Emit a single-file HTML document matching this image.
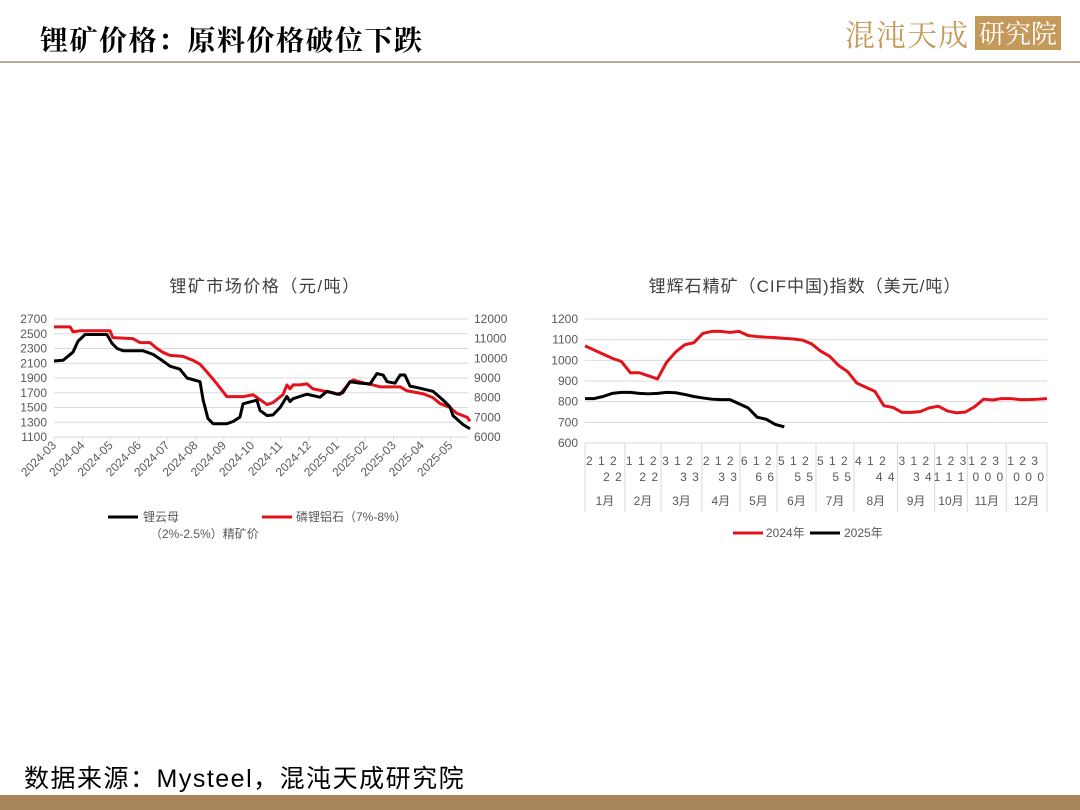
<!DOCTYPE html>
<html><head><meta charset="utf-8">
<style>
body{margin:0;width:1080px;height:810px;background:#fff;position:relative;overflow:hidden;font-family:"Liberation Sans","Noto Sans CJK SC",sans-serif;}
.abs{position:absolute;}
</style></head>
<body>
<div class="abs" style="left:40px;top:19px;font-size:28px;letter-spacing:1.5px;font-weight:bold;font-family:'Noto Serif CJK SC','Noto Sans CJK SC',serif;color:#000;">锂矿价格：原料价格破位下跌</div>
<div class="abs" style="left:845px;top:14px;height:38px;display:flex;align-items:center;">
  <span style="font-size:30px;color:#c49a5a;font-family:'Noto Serif CJK SC',serif;letter-spacing:1px;">混沌天成</span>
  <span style="margin-left:6px;background:#c49a5a;color:#fff;font-size:26px;padding:0 4px;font-family:'Noto Serif CJK SC',serif;line-height:34px;">研究院</span>
</div>
<div class="abs" style="left:0;top:61px;width:1080px;height:2px;background:#b9ab95;"></div>

<svg class="abs" style="left:0;top:0" width="1080" height="810">
<g id="left"></g>
<g id="right"></g>
</svg>

<div class="abs" style="left:24px;top:759px;font-size:25px;letter-spacing:1.5px;color:#000;">数据来源：Mysteel，混沌天成研究院</div>
<div class="abs" style="left:0;top:795px;width:1080px;height:15px;background:#a9855a;"></div>

<script>
// ---- Left chart data ----
const leftMonthLabels=["2024-03","2024-04","2024-05","2024-06","2024-07","2024-08","2024-09","2024-10","2024-11","2024-12","2025-01","2025-02","2025-03","2025-04","2025-05"];
const leftYTicks=[1100,1300,1500,1700,1900,2100,2300,2500,2700];
const rightYTicksL=[6000,7000,8000,9000,10000,11000,12000];
const lepidoliteT=[0,.32,.67,.85,1.1,1.87,2.05,2.23,2.44,3.14,3.5,3.85,4.1,4.45,4.7,5.16,5.27,5.44,5.62,6.11,6.33,6.57,6.68,7.17,7.28,7.53,7.74,7.99,8.23,8.34,8.45,8.69,8.94,9.4,9.65,10,10.2,10.46,10.8,11.17,11.41,11.63,11.77,12.05,12.23,12.4,12.58,12.83,13.39,13.75,13.99,14.1,14.45,14.7];
const lepidoliteV=[2130,2140,2250,2400,2490,2490,2370,2300,2270,2270,2220,2130,2060,2020,1900,1850,1600,1350,1280,1280,1310,1370,1550,1600,1460,1390,1400,1500,1650,1580,1620,1650,1680,1640,1720,1680,1700,1850,1830,1820,1960,1940,1850,1830,1940,1940,1790,1770,1720,1600,1510,1390,1270,1210];
const amblygoniteT=[0,.57,.67,.92,1.98,2.08,2.79,3.04,3.39,3.64,3.85,4.1,4.56,4.91,5.16,5.41,5.76,6.11,6.68,7.03,7.28,7.53,7.74,8.09,8.23,8.34,8.45,8.69,8.94,9.15,9.65,9.86,10.1,10.46,10.57,11.06,11.27,11.52,12.23,12.47,13.04,13.39,13.64,13.99,14.24,14.6,14.7];
const amblygoniteV=[11600,11600,11350,11400,11400,11050,11000,10800,10800,10500,10300,10150,10100,9900,9700,9300,8700,8050,8050,8150,7900,7650,7750,8150,8650,8450,8650,8650,8700,8450,8300,8250,8150,8800,8900,8700,8650,8550,8550,8350,8200,8000,7700,7500,7200,7000,6800];

// ---- Right chart data ----
const rYTicks=[600,700,800,900,1000,1100,1200];
const monthNames=["1月","2月","3月","4月","5月","6月","7月","8月","9月","10月","11月","12月"];
const monthStartWeek=[0,4.4,8.4,12.9,17.1,21.2,25.5,29.7,34.5,38.6,42.2,46.5,51];
const dayRow1=["2 1 2","1 1 2","3 1 2","2 1 2","6 1 2","5 1 2","5 1 2","4 1 2","3 1 2","1 2 3","1 2 3","1 2 3"];
const dayRow2=["2 2","2 2","3 3","3 3","6 6","5 5","5 5","4 4","3 4","1 1 1","0 0 0","0 0 0"];
const s2024=[1070,1050,1030,1010,995,940,940,925,910,990,1040,1075,1085,1130,1140,1140,1135,1140,1120,1115,1112,1110,1106,1103,1098,1080,1045,1020,975,945,890,870,850,780,772,748,748,752,770,778,755,746,750,775,812,808,815,815,810,810,812,815];
const s2025=[815,815,825,840,845,845,840,838,840,845,843,835,825,818,812,810,810,790,770,725,715,690,678];

const NS="http://www.w3.org/2000/svg";
function mk(parent,tag,attrs,text){const e=document.createElementNS(NS,tag);for(const k in attrs)e.setAttribute(k,attrs[k]);if(text!==undefined)e.textContent=text;parent.appendChild(e);return e;}
const axisColor="#595959";
// Left chart
const L=document.getElementById('left');
const lx=m=>54+m*28.3;
const ly=v=>437-(v-1100)/1600*118;
const ry=v=>437-(v-6000)/6000*118;
let t=mk(L,'text',{x:265,y:292,'text-anchor':'middle','font-size':17,fill:'#404040','letter-spacing':'1.5'},'锂矿市场价格（元/吨）');

leftYTicks.forEach(v=>{const g=mk(L,'line',{x1:54,x2:468,y1:ly(v),y2:ly(v),stroke:'#d9d9d9','stroke-width':1});

const tx=mk(L,'text',{x:47,y:ly(v)+4,'text-anchor':'end','font-size':12,fill:axisColor},v);
});
rightYTicksL.forEach(v=>{const tx=mk(L,'text',{x:474,y:ry(v)+4,'font-size':12,fill:axisColor},v);
});
leftMonthLabels.forEach((s,i)=>{const x=lx(i);
const tk=mk(L,'line',{x1:x,x2:x,y1:437,y2:441,stroke:'#d9d9d9'});
const tx=mk(L,'text',{x:x+3,y:446,'text-anchor':'end','font-size':12,fill:axisColor,transform:`rotate(-45 ${x+3} 446)`},s);
});
let p=mk(L,'polyline',{points:amblygoniteT.map((m,i)=>lx(m)+','+ry(amblygoniteV[i])).join(' '),fill:'none',stroke:'#e3121b','stroke-width':3,'stroke-linejoin':'round'});

p=mk(L,'polyline',{points:lepidoliteT.map((m,i)=>lx(m)+','+ly(lepidoliteV[i])).join(' '),fill:'none',stroke:'#000','stroke-width':3,'stroke-linejoin':'round'});

let lg=mk(L,'line',{x1:108,x2:138,y1:517,y2:517,stroke:'#000','stroke-width':3});
t=mk(L,'text',{x:143,y:521,'font-size':12,fill:axisColor},'锂云母');
t=mk(L,'text',{x:150,y:538,'font-size':12,fill:axisColor},'（2%-2.5%）精矿价');
lg=mk(L,'line',{x1:262,x2:292,y1:517,y2:517,stroke:'#e3121b','stroke-width':3});
t=mk(L,'text',{x:296,y:521,'font-size':12,fill:axisColor},'磷锂铝石（7%-8%）');

// Right chart
const R=document.getElementById('right');
const wx=w=>585+w*(462/51);
const vy=v=>443-(v-600)/600*124;
t=mk(R,'text',{x:805,y:292,'text-anchor':'middle','font-size':17,fill:'#404040','letter-spacing':'1'},'锂辉石精矿（CIF中国)指数（美元/吨）');

rYTicks.forEach(v=>{const g=mk(R,'line',{x1:585,x2:1047,y1:vy(v),y2:vy(v),stroke:'#d9d9d9'});

const tx=mk(R,'text',{x:578,y:vy(v)+4,'text-anchor':'end','font-size':12,fill:axisColor},v);
});
monthStartWeek.forEach(w=>{const l=mk(R,'line',{x1:wx(w),x2:wx(w),y1:443,y2:512,stroke:'#d9d9d9'});
});
monthNames.forEach((m,i)=>{const a=wx(monthStartWeek[i]),b=wx(monthStartWeek[i+1]);
let tx=mk(R,'text',{x:(a+b)/2,y:505,'text-anchor':'middle','font-size':12,fill:axisColor},m);

tx=mk(R,'text',{x:a+1,y:465,'font-size':12,fill:axisColor,'xml:space':'preserve','letter-spacing':'1'},dayRow1[i]);

tx=mk(R,'text',{x:b-2,y:481,'text-anchor':'end','font-size':12,fill:axisColor,'letter-spacing':'1'},dayRow2[i]);
});
p=mk(R,'polyline',{points:s2024.map((v,i)=>wx(i)+','+vy(v)).join(' '),fill:'none',stroke:'#e3121b','stroke-width':3,'stroke-linejoin':'round'});

p=mk(R,'polyline',{points:s2025.map((v,i)=>wx(i)+','+vy(v)).join(' '),fill:'none',stroke:'#000','stroke-width':3,'stroke-linejoin':'round'});

lg=mk(R,'line',{x1:733,x2:763,y1:533,y2:533,stroke:'#e3121b','stroke-width':3});
t=mk(R,'text',{x:766,y:537,'font-size':12,fill:axisColor},'2024年');
lg=mk(R,'line',{x1:810,x2:840,y1:533,y2:533,stroke:'#000','stroke-width':3});
t=mk(R,'text',{x:844,y:537,'font-size':12,fill:axisColor},'2025年');
</script>
</body></html>
